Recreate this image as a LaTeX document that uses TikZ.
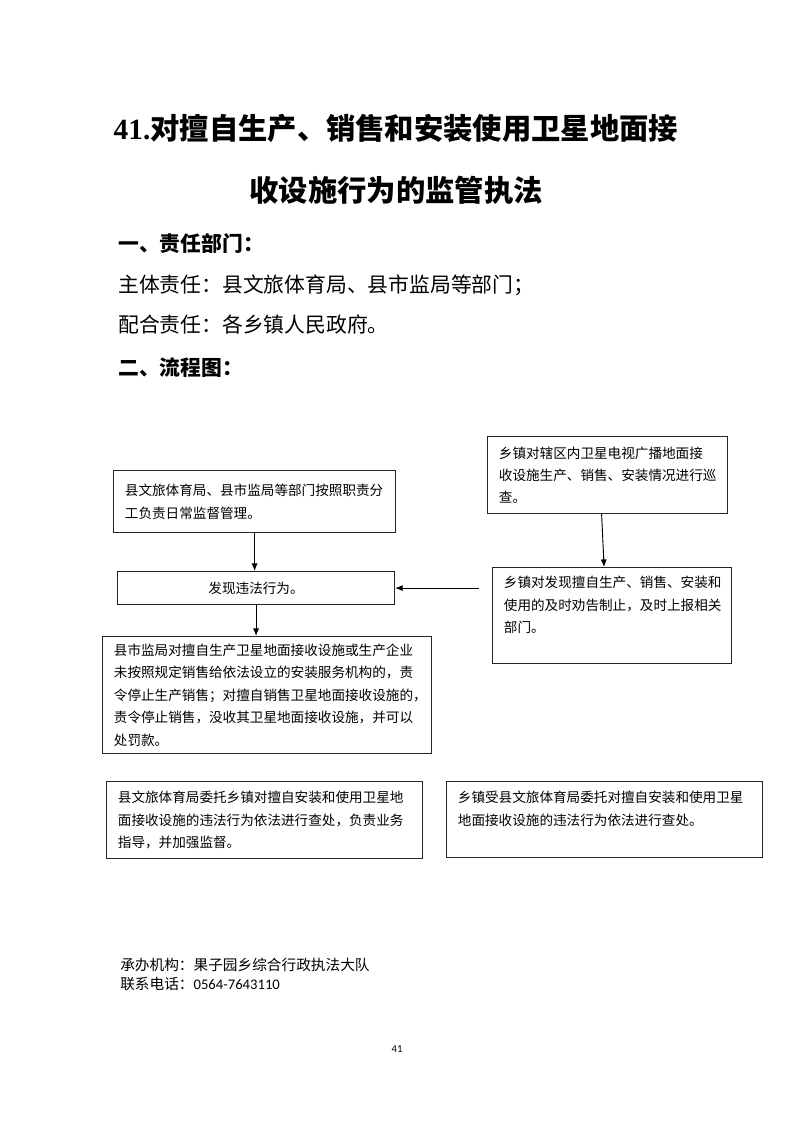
\documentclass[tikz,border=0pt]{standalone}
\usepackage{fontspec}
\setmainfont{Noto Sans CJK SC}
\newfontfamily\latinserif{Liberation Serif}
\newfontfamily\latinsans{Carlito}
\usetikzlibrary{arrows.meta,positioning}
\newcommand{\boxfont}{\fontsize{10.2pt}{16.8pt}\selectfont}
\tikzset{
  ebox/.style={draw=black!85,line width=0.9pt,anchor=north west,align=left,inner xsep=8.5pt,inner ysep=3pt,font=\boxfont},
  cbox/.style={ebox,align=center},
  flow/.style={-{Latex[length=2mm,width=1.6mm]},line width=0.7pt,draw=black},
  titl/.style={inner sep=0pt,font=\fontsize{22pt}{26pt}\selectfont\bfseries},
  head/.style={anchor=west,inner sep=0pt,font=\fontsize{15.6pt}{18pt}\selectfont\bfseries},
  body/.style={anchor=west,inner sep=0pt,font=\fontsize{15.6pt}{18pt}\selectfont},
  foot/.style={anchor=west,inner sep=0pt,font=\fontsize{11pt}{13pt}\selectfont}
}

\begin{document}
\begin{tikzpicture}[x=0.75pt,y=-0.75pt]
  \useasboundingbox (0,0) rectangle (793,1122);
  \node[titl] (t1) at (396,128) {{\latinserif 41.}对擅自生产、销售和安装使用卫星地面接};
  \node[titl] (t2) at (396,190) {收设施行为的监管执法};
  \node[head] (h1) at (118,244) {一、责任部门：};
  \node[body] (zhuti) at (118,285) {主体责任：县文旅体育局、县市监局等部门；};
  \node[body] (peihe) at (118,325) {配合责任：各乡镇人民政府。};
  \node[head] (h2) at (118,368) {二、流程图：};

  \node[ebox,text width=194.5pt,minimum height=46.5pt] (bumen) at (113,470) {县文旅体育局、县市监局等部门按照职责分\\ 工负责日常监督管理。};
  \node[cbox,text width=190.7pt,minimum height=24.75pt] (faxian) at (117,571) {发现违法行为。};
  \node[ebox,text width=229.75pt,minimum height=87.75pt] (chufa) at (102,636) {县市监局对擅自生产卫星地面接收设施或生产企业\\ 未按照规定销售给依法设立的安装服务机构的，责\\ 令停止生产销售；对擅自销售卫星地面接收设施的，\\ 责令停止销售，没收其卫星地面接收设施，并可以\\ 处罚款。};
  \node[ebox,text width=163pt,minimum height=57.75pt] (xuncha) at (487,436) {乡镇对辖区内卫星电视广播地面接\\ 收设施生产、销售、安装情况进行巡\\ 查。};
  \node[ebox,text width=162.25pt,minimum height=72pt] (quangao) at (492,567) {乡镇对发现擅自生产、销售、安装和\\ 使用的及时劝告制止，及时上报相关\\ 部门。\\ ~};
  \node[ebox,text width=220pt,minimum height=57.75pt] (weituo) at (106,781) {县文旅体育局委托乡镇对擅自安装和使用卫星地\\ 面接收设施的违法行为依法进行查处，负责业务\\ 指导，并加强监督。};
  \node[ebox,text width=220pt,minimum height=57pt] (shouwt) at (446,781) {乡镇受县文旅体育局委托对擅自安装和使用卫星\\ 地面接收设施的违法行为依法进行查处。\\ ~};

  \draw[flow] (bumen.south) -- (bumen.south |- faxian.north);
  \draw[flow] (faxian.south) -- (faxian.south |- chufa.north);
  \draw[flow] ([xshift=-4.5pt]xuncha.south) -- ([xshift=-6pt]quangao.north);
  \coordinate (qgin) at ([xshift=-9.75pt]quangao.west);
  \draw[flow] (qgin |- faxian.east) -- (faxian.east);

  \node[foot] (chengban) at (120,965) {承办机构：果子园乡综合行政执法大队};
  \node[foot] (dianhua) at (120,984) {联系电话：{\latinsans 0564-7643110}};
  \node[font=\latinsans\fontsize{8pt}{9pt}\selectfont] (yema) at (397,1049) {41};
\end{tikzpicture}
\end{document}
